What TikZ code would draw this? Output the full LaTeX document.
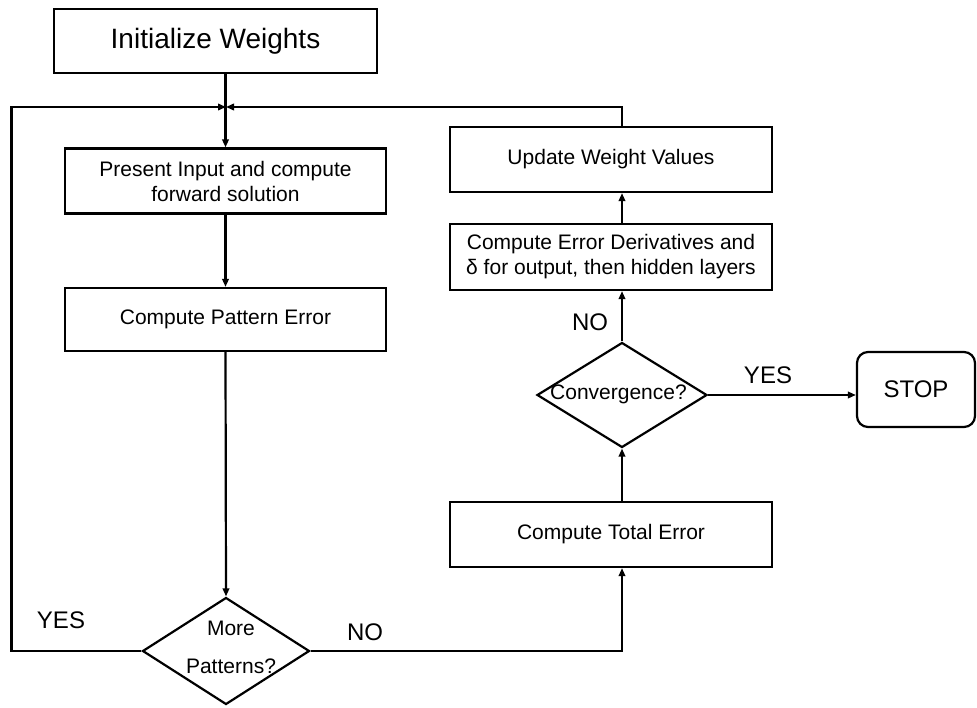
\documentclass[tikz,border=0pt]{standalone}
\usepackage{fontspec}
\setmainfont{Liberation Sans}
\usetikzlibrary{arrows.meta,shapes.geometric,calc}
\begin{document}
\begin{tikzpicture}[x=1pt,y=-1pt,
  procbox/.style={draw, line width=2.2pt, inner sep=0pt, align=center,
    font=\fontsize{21}{25}\selectfont},
  decision/.style={draw, diamond, line width=2.2pt, inner sep=0pt},
  dtext/.style={inner sep=0pt, align=center},
  arr/.style={-{Triangle[length=8pt,width=6.5pt]}, line width=2.2pt},
  lab/.style={inner sep=0pt, font=\fontsize{24}{28}\selectfont}]
\useasboundingbox (0,0) rectangle (977,707);
\fill[white] (0,0) rectangle (977,707);

% left column
\node[procbox, minimum width=323pt, minimum height=64pt,
  font=\fontsize{28}{32}\selectfont] (init) at (215.5,41) {Initialize Weights};
\node[procbox, minimum width=321pt, minimum height=65pt] (pres) at (225.5,181)
  {Present Input and compute\\forward solution};
\node[procbox, minimum width=321pt, minimum height=63pt] (pat) at (225.5,319.5)
  {Compute Pattern Error};
\node[decision, minimum width=167pt, minimum height=107pt] (more) at (226,651) {};
\node[dtext, font=\fontsize{21}{38}\selectfont] (moretxt) at (231,647) {More\\Patterns?};

% right column
\node[procbox, minimum width=322pt, minimum height=65pt] (upd) at (611,159.5)
  {Update Weight Values};
\node[procbox, minimum width=322pt, minimum height=66pt] (der) at (611,257)
  {Compute Error Derivatives and\\δ for output, then hidden layers};
\node[decision, minimum width=170pt, minimum height=105pt] (conv) at (622,395) {};
\node[dtext, font=\fontsize{21}{25}\selectfont] (convtxt) at (618.5,394) {Convergence?};
\node[procbox, minimum width=322pt, minimum height=65pt] (tot) at (611,534.5)
  {Compute Total Error};
\node[draw, line width=2.2pt, rounded corners=11pt, minimum width=118pt,
  minimum height=75pt, inner sep=0pt, font=\fontsize{24}{28}\selectfont]
  (stop) at (916,389.5) {STOP};

% labels
\node[lab] (yesl) at (61,620) {YES};
\node[lab] (nol) at (365,632) {NO};
\node[lab] (noc) at (590,322) {NO};
\node[lab] (yesc) at (768,375) {YES};

% connectors
\coordinate (j) at (226,107);
\draw[arr] (pres.north |- init.south) -- (pres.north);
\draw[arr] (more.west) -- ++(-130,0) |- (j);
\draw[arr] (conv.north |- upd.north) |- (j);
\draw[arr] (pres.south) -- (pat.north);
\draw[arr] (pat.south) -- (more.north);
\draw[arr] (more.east) -| (conv.south |- tot.south);
\draw[arr] (conv.south |- tot.north) -- (conv.south);
\draw[arr] (conv.north) -- (conv.north |- der.south);
\draw[arr] (conv.north |- der.north) -- (conv.north |- upd.south);
\draw[arr] (conv.east) -- (conv.east -| stop.west);
\end{tikzpicture}
\end{document}
